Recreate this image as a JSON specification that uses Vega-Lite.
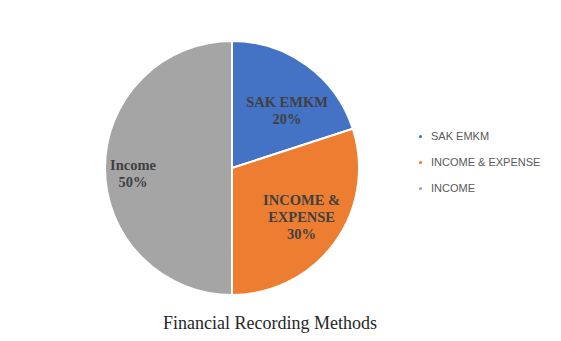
{
  "$schema": "https://vega.github.io/schema/vega-lite/v6.json",
  "width": 464,
  "height": 336,
  "padding": {"left": 0, "top": 0, "right": 97, "bottom": 5},
  "autosize": {"type": "none"},
  "background": "white",
  "config": {"view": {"stroke": null}},
  "title": {
    "text": "Financial Recording Methods",
    "orient": "bottom",
    "offset": -21,
    "dx": 38,
    "font": "Liberation Serif",
    "fontSize": 18,
    "fontWeight": "normal",
    "color": "#262626"
  },
  "data": {
    "values": [
      {"method": "SAK EMKM", "value": 20, "order": 1, "label": "SAK EMKM|20%"},
      {"method": "INCOME & EXPENSE", "value": 30, "order": 2, "label": "INCOME &|EXPENSE|30%"},
      {"method": "INCOME", "value": 50, "order": 3, "label": "Income|50%"}
    ]
  },
  "transform": [
    {"stack": "value", "groupby": [], "sort": [{"field": "order"}], "as": ["v0", "v1"]},
    {"calculate": "(datum.v0 + datum.v1) / 2", "as": "mid"}
  ],
  "layer": [
    {
      "mark": {"type": "arc", "outerRadius": 127, "stroke": "white", "strokeWidth": 2},
      "encoding": {
        "theta": {"field": "v0", "type": "quantitative", "stack": null, "scale": {"domain": [0, 100], "range": [0, 6.2832]}},
        "theta2": {"field": "v1"},
        "color": {
          "field": "method",
          "type": "nominal",
          "sort": ["SAK EMKM", "INCOME & EXPENSE", "INCOME"],
          "scale": {"domain": ["SAK EMKM", "INCOME & EXPENSE", "INCOME"], "range": ["#4472C4", "#ED7D31", "#A5A5A5"]},
          "legend": {
            "title": null,
            "orient": "none",
            "legendX": 415,
            "legendY": 131,
            "symbolType": "circle",
            "symbolSize": 22,
            "labelFont": "Liberation Sans",
            "labelFontSize": 11,
            "labelColor": "#595959",
            "rowPadding": 14,
            "labelOffset": 5
          }
        }
      }
    },
    {
      "transform": [{"filter": "datum.order == 1"}],
      "mark": {"type": "text", "radius": 80, "dx": 8, "lineBreak": "|", "font": "Liberation Serif", "fontSize": 14.5, "fontWeight": "bold", "color": "#404040", "lineHeight": 17},
      "encoding": {
        "theta": {"field": "mid", "type": "quantitative", "stack": null, "scale": {"domain": [0, 100], "range": [0, 6.2832]}},
        "text": {"field": "label"}
      }
    },
    {
      "transform": [{"filter": "datum.order == 2"}],
      "mark": {"type": "text", "radius": 86, "dy": -18, "lineBreak": "|", "font": "Liberation Serif", "fontSize": 14.5, "fontWeight": "bold", "color": "#404040", "lineHeight": 17},
      "encoding": {
        "theta": {"field": "mid", "type": "quantitative", "stack": null, "scale": {"domain": [0, 100], "range": [0, 6.2832]}},
        "text": {"field": "label"}
      }
    },
    {
      "transform": [{"filter": "datum.order == 3"}],
      "mark": {"type": "text", "radius": 99, "dy": -2, "lineBreak": "|", "font": "Liberation Serif", "fontSize": 14.5, "fontWeight": "bold", "color": "#404040", "lineHeight": 17},
      "encoding": {
        "theta": {"field": "mid", "type": "quantitative", "stack": null, "scale": {"domain": [0, 100], "range": [0, 6.2832]}},
        "text": {"field": "label"}
      }
    }
  ]
}
